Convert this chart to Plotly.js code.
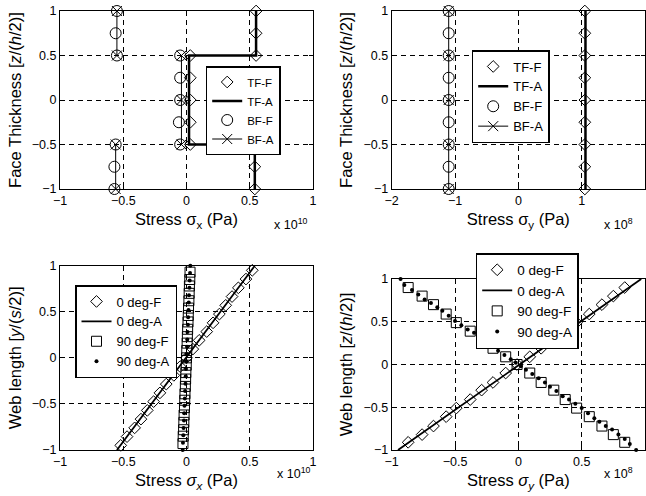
<!DOCTYPE html>
<html><head><meta charset="utf-8">
<script src="https://cdn.plot.ly/plotly-3.0.1.min.js"></script>
<style>html,body{margin:0;padding:0;background:#fff}#c{width:646px;height:496px}</style>
</head><body><div id="c"></div>
<script>
// ---- Top-left: stress sigma_x through face thickness (x 1e10 Pa)
const tlTFF_x = [0.55,0.55,0.55,0.03,0.03,0.03,0.03,0.03,0.54,0.54,0.54];
const tlTFF_y = [1,0.75,0.5,0.5,0.25,0,-0.25,-0.5,-0.5,-0.75,-1];
const tlTFA_x = [0.55,0.55,0.02,0.02,0.54,0.54];
const tlTFA_y = [1,0.5,0.5,-0.5,-0.5,-1];
const tlBFF_x = [-0.55,-0.56,-0.55,-0.05,-0.05,-0.05,-0.06,-0.05,-0.56,-0.57,-0.57];
const tlBFF_y = [1,0.75,0.5,0.5,0.25,0,-0.25,-0.5,-0.5,-0.75,-1];
const tlBFA_x = [-0.55,-0.55,null,-0.04,-0.04,-0.04,null,-0.56,-0.56];
const tlBFA_y = [1,0.5,null,0.5,0,-0.5,null,-0.5,-1];

// ---- Top-right: stress sigma_y through face thickness (x 1e8 Pa)
const trTFF_x = [1.05,1.05,1.05,1.05,1.05,1.05,1.05,1.05,1.05];
const trTFF_y = [1,0.75,0.5,0.25,0,-0.25,-0.5,-0.75,-1];
const trTFA_x = [1.06,1.06];
const trTFA_y = [1,-1];
const trBFF_x = [-1.1,-1.1,-1.1,-1.1,-1.1,-1.1,-1.1,-1.1,-1.1];
const trBFF_y = [1,0.75,0.5,0.25,0,-0.25,-0.5,-0.75,-1];
const trBFA_x = [-1.1,-1.1,-1.1,-1.1,-1.1];
const trBFA_y = [1,0.5,0,-0.5,-1];

// ---- Bottom-left: stress sigma_x along web length (x 1e10 Pa)
const bl0F_x = [-0.52,-0.47,-0.41,-0.36,-0.31,-0.26,-0.21,-0.16,-0.10,-0.05,0.0,0.05,0.10,0.16,0.21,0.26,0.31,0.36,0.41,0.47,0.52];
const bl0F_y = [-0.95,-0.855,-0.76,-0.665,-0.57,-0.475,-0.38,-0.285,-0.19,-0.095,0,0.095,0.19,0.285,0.38,0.475,0.57,0.665,0.76,0.855,0.95];
const bl0A_x = [-0.55,0.54];
const bl0A_y = [-1,1];
const bl90F_x = [-0.028,-0.026,-0.023,-0.021,-0.019,-0.016,-0.014,-0.012,-0.009,-0.007,-0.005,-0.002,0,0.002,0.005,0.007,0.009,0.012,0.014,0.016,0.019,0.021,0.023,0.026,0.028];
const bl90F_y = [-0.93,-0.85,-0.78,-0.70,-0.62,-0.54,-0.46,-0.39,-0.31,-0.23,-0.16,-0.08,0,0.08,0.16,0.23,0.31,0.39,0.46,0.54,0.62,0.70,0.78,0.85,0.93];
const bl90A_x = [-0.030,-0.028,-0.025,-0.023,-0.020,-0.018,-0.016,-0.013,-0.011,-0.008,-0.006,-0.004,-0.001,0.001,0.004,0.006,0.008,0.011,0.013,0.016,0.018,0.020,0.023,0.025,0.028,0.030];
const bl90A_y = [-1.00,-0.92,-0.84,-0.76,-0.68,-0.60,-0.52,-0.44,-0.36,-0.28,-0.20,-0.12,-0.04,0.04,0.12,0.20,0.28,0.36,0.44,0.52,0.60,0.68,0.76,0.84,0.92,1.00];

// ---- Bottom-right: stress sigma_y along web length (x 1e8 Pa)
const br0F_x = [-0.87,-0.76,-0.67,-0.57,-0.49,-0.38,-0.29,-0.20,-0.10,-0.01,0.09,0.18,0.28,0.37,0.46,0.56,0.66,0.75,0.84];
const br0F_y = [-0.91,-0.82,-0.72,-0.61,-0.51,-0.41,-0.30,-0.21,-0.10,0.0,0.09,0.19,0.30,0.39,0.49,0.59,0.70,0.80,0.90];
const br0A_x = [-0.95,0.97];
const br0A_y = [-1,1];
const br90F_x = [-0.87,-0.76,-0.67,-0.57,-0.49,-0.38,-0.29,-0.20,-0.10,-0.01,0.09,0.18,0.28,0.37,0.46,0.56,0.66,0.75,0.84];
const br90F_y = [0.90,0.80,0.70,0.59,0.49,0.39,0.30,0.19,0.09,0.0,-0.10,-0.21,-0.30,-0.41,-0.51,-0.61,-0.72,-0.82,-0.91];
const br90A_x = [-0.93,-0.90,-0.84,-0.79,-0.74,-0.69,-0.64,-0.60,-0.55,-0.50,-0.45,-0.40,-0.35,-0.30,-0.25,-0.21,-0.16,-0.11,-0.06,-0.02,0.02,0.06,0.11,0.16,0.21,0.25,0.30,0.35,0.40,0.45,0.50,0.55,0.60,0.64,0.69,0.74,0.79,0.84,0.88,0.93];
const br90A_y = [1.0,0.93,0.87,0.82,0.76,0.72,0.67,0.63,0.57,0.51,0.46,0.41,0.37,0.31,0.26,0.21,0.16,0.11,0.06,0.02,-0.02,-0.06,-0.11,-0.16,-0.21,-0.26,-0.31,-0.37,-0.41,-0.46,-0.51,-0.57,-0.63,-0.67,-0.72,-0.76,-0.82,-0.87,-0.93,-1.0];

const K = 'black';
function mk(x,y,name,ax,ay,lg,opts){
  return Object.assign({x:x,y:y,name:name,xaxis:ax,yaxis:ay,legend:lg,type:'scatter',cliponaxis:false},opts);
}
const diamond = {mode:'markers',marker:{symbol:'diamond-open',size:9,color:K,line:{width:1,color:K}}};
const circle = {mode:'markers',marker:{symbol:'circle-open',size:11,color:K,line:{width:1,color:K}}};
const square = {mode:'markers',marker:{symbol:'square-open',size:10,color:K,line:{width:1,color:K}}};
const dot = {mode:'markers',marker:{symbol:'circle',size:4,color:K}};
const thick = {mode:'lines',line:{color:K,width:2.5}};
const mid = {mode:'lines',line:{color:K,width:1.8}};
const xline = {mode:'lines+markers',line:{color:K,width:1},marker:{symbol:'x-thin-open',size:10,color:K,line:{width:1,color:K}},connectgaps:false};

const data = [
  mk(tlTFF_x,tlTFF_y,'TF-F','x','y','legend',diamond),
  mk(tlTFA_x,tlTFA_y,'TF-A','x','y','legend',thick),
  mk(tlBFF_x,tlBFF_y,'BF-F','x','y','legend',circle),
  mk(tlBFA_x,tlBFA_y,'BF-A','x','y','legend',xline),

  mk(trTFF_x,trTFF_y,'TF-F','x2','y2','legend2',diamond),
  mk(trTFA_x,trTFA_y,'TF-A','x2','y2','legend2',thick),
  mk(trBFF_x,trBFF_y,'BF-F','x2','y2','legend2',circle),
  mk(trBFA_x,trBFA_y,'BF-A','x2','y2','legend2',xline),

  mk(bl0F_x,bl0F_y,'0 deg-F','x3','y3','legend3',diamond),
  mk(bl0A_x,bl0A_y,'0 deg-A','x3','y3','legend3',mid),
  mk(bl90F_x,bl90F_y,'90 deg-F','x3','y3','legend3',square),
  mk(bl90A_x,bl90A_y,'90 deg-A','x3','y3','legend3',dot),

  mk(br0F_x,br0F_y,'0 deg-F','x4','y4','legend4',diamond),
  mk(br0A_x,br0A_y,'0 deg-A','x4','y4','legend4',mid),
  mk(br90F_x,br90F_y,'90 deg-F','x4','y4','legend4',square),
  mk(br90A_x,br90A_y,'90 deg-A','x4','y4','legend4',dot)
];

const W=646,H=496;
const px = v => v/W, py = v => 1 - v/H;
function axis(dom, anchor, range, dtick, title, extra){
  return Object.assign({
    domain:dom, anchor:anchor, range:range, dtick:dtick, tick0:0,
    showline:true, mirror:'ticks', linecolor:K, linewidth:1,
    ticks:'inside', ticklen:4, tickcolor:K,
    showgrid:true, gridcolor:K, gridwidth:1, griddash:'5px,4px',
    zeroline:false, tickfont:{size:12.5,color:K},
    title:{text:title,font:{size:16.5,color:K},standoff:6},
    fixedrange:true
  }, extra||{});
}
const xL=[px(60),px(313)], xR=[px(391.7),px(645)];
const yT=[py(189),py(11)], yBL=[py(450),py(265.7)], yBR=[py(450),py(279)];
const lgBase = {bgcolor:'white',bordercolor:K,borderwidth:1.5,xanchor:'left',yanchor:'top',font:{color:K,family:'Liberation Sans, Arial, sans-serif'}};
const ann = (t,x,y) => ({text:t,xref:'paper',yref:'paper',x:px(x),y:py(y),xanchor:'center',yanchor:'middle',showarrow:false,font:{size:12.5,color:K}});
const layout = {
  width:W,height:H,margin:{l:0,r:0,t:0,b:0},
  paper_bgcolor:'white',plot_bgcolor:'white',
  font:{family:'Liberation Sans, Arial, sans-serif',color:K},
  showlegend:true,
  xaxis: axis(xL,'y',[-1,1],0.5,'Stress σ<sub>x</sub> (Pa)'),
  yaxis: axis(yT,'x',[-1,1],0.5,'Face Thickness [<i>z</i>/(<i>h</i>/2)]'),
  xaxis2: axis(xR,'y2',[-2,2],1,'Stress σ<sub>y</sub> (Pa)'),
  yaxis2: axis(yT,'x2',[-1,1],0.5,'Face Thickness [<i>z</i>/(<i>h</i>/2)]'),
  xaxis3: axis(xL,'y3',[-1,1],0.5,'Stress <i>σ<sub>x</sub></i> (Pa)'),
  yaxis3: axis(yBL,'x3',[-1,1],0.5,'Web length [<i>y</i>/(<i>s</i>/2)]'),
  xaxis4: axis(xR,'y4',[-1,1],0.5,'Stress <i>σ<sub>y</sub></i> (Pa)'),
  yaxis4: axis(yBR,'x4',[-1,1],0.5,'Web length [<i>z</i>/(<i>h</i>/2)]'),
  legend: Object.assign({},lgBase,{x:px(205.7),y:py(66),font:Object.assign({},lgBase.font,{size:11.5})}),
  legend2: Object.assign({},lgBase,{x:px(471.7),y:py(50),font:Object.assign({},lgBase.font,{size:13})}),
  legend3: Object.assign({},lgBase,{x:px(75),y:py(285),font:Object.assign({},lgBase.font,{size:13})}),
  legend4: Object.assign({},lgBase,{x:px(475.7),y:py(253),font:Object.assign({},lgBase.font,{size:13.5})}),
  annotations:[
    ann('x 10<sup>10</sup>',291,224),
    ann('x 10<sup>8</sup>',618,224),
    ann('x 10<sup>10</sup>',294,473),
    ann('x 10<sup>8</sup>',618,473)
  ]
};
Plotly.newPlot('c',data,layout,{displayModeBar:false,staticPlot:true});
</script></body></html>
